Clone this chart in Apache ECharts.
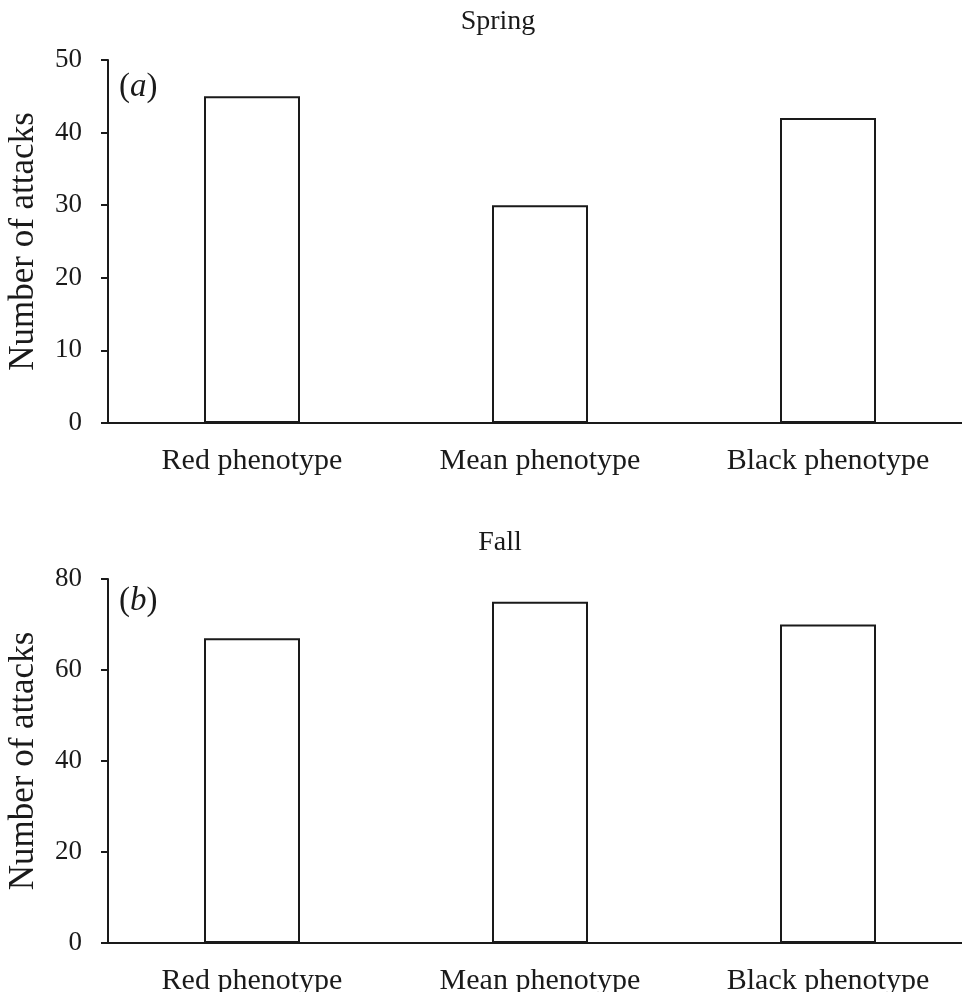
<!DOCTYPE html>
<html>
<head>
<meta charset="utf-8">
<script src="https://cdn.jsdelivr.net/npm/echarts@6/dist/echarts.min.js"></script>
<style>
  html, body { margin: 0; padding: 0; background: #fff; }
  #chart { width: 962px; height: 992px; }
</style>
</head>
<body>
<div id="chart"></div>
<script>
// categories and values
const phenotypes = ['Red phenotype', 'Mean phenotype', 'Black phenotype'];
const springAttacks = [45, 30, 42];
const fallAttacks = [67, 75, 70];
const springTicks = { min: 0, max: 50, interval: 10 };
const fallTicks = { min: 0, max: 80, interval: 20 };

const serif = '"Liberation Serif", "DejaVu Serif", serif';
const ink = '#1a1a1a';

function yAxisFor(idx, ticks) {
  return {
    type: 'value',
    gridIndex: idx,
    min: ticks.min,
    max: ticks.max,
    interval: ticks.interval,
    name: 'Number of attacks',
    nameLocation: 'middle',
    nameGap: 67,
    nameTextStyle: { fontFamily: serif, fontSize: 35, color: ink },
    axisLine: { show: true, lineStyle: { color: ink, width: 2 } },
    axisTick: { show: true, length: 7, lineStyle: { color: ink, width: 2 } },
    axisLabel: { fontFamily: serif, fontSize: 27, color: ink, margin: 26 },
    splitLine: { show: false }
  };
}

function xAxisFor(idx) {
  return {
    type: 'category',
    gridIndex: idx,
    data: phenotypes,
    axisLine: { show: true, lineStyle: { color: ink, width: 2 } },
    axisTick: { show: false },
    axisLabel: { fontFamily: serif, fontSize: 30, color: ink, margin: 23 }
  };
}

function barSeries(idx, values) {
  return {
    type: 'bar',
    xAxisIndex: idx,
    yAxisIndex: idx,
    data: values,
    barWidth: 96,
    itemStyle: { color: '#fff', borderColor: ink, borderWidth: 2 }
  };
}

const panelLabel = (letter) => ({
  text: '{p|(}{i|' + letter + '}{p|)}',
  textStyle: {
    rich: {
      p: { fontFamily: serif, fontSize: 33, fontWeight: 'normal', color: ink },
      i: { fontFamily: serif, fontSize: 33, fontStyle: 'italic', fontWeight: 'normal', color: ink }
    }
  }
});

const chart = echarts.init(document.getElementById('chart'));
chart.setOption({
  animation: false,
  title: [
    { text: 'Spring', left: 493, top: 3, textAlign: 'center',
      textStyle: { fontFamily: serif, fontSize: 28, fontWeight: 'normal', color: ink } },
    { text: 'Fall', left: 495, top: 524, textAlign: 'center',
      textStyle: { fontFamily: serif, fontSize: 28, fontWeight: 'normal', color: ink } },
    Object.assign({ left: 119, top: 71, padding: 0 }, panelLabel('a')),
    Object.assign({ left: 119, top: 585, padding: 0 }, panelLabel('b'))
  ],
  grid: [
    { left: 108, top: 60, width: 864, height: 363, outerBoundsMode: 'none', containLabel: false },
    { left: 108, top: 579, width: 864, height: 364, outerBoundsMode: 'none', containLabel: false }
  ],
  xAxis: [xAxisFor(0), xAxisFor(1)],
  yAxis: [yAxisFor(0, springTicks), yAxisFor(1, fallTicks)],
  series: [barSeries(0, springAttacks), barSeries(1, fallAttacks)]
});
</script>
</body>
</html>
